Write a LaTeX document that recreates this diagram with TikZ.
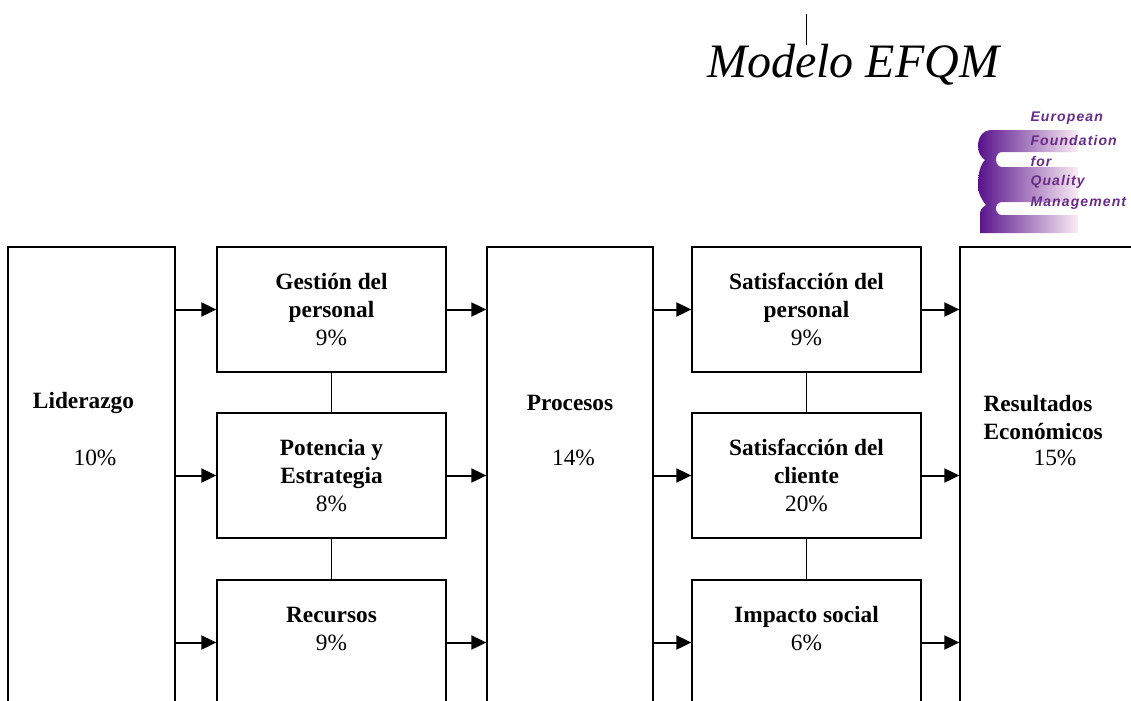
\documentclass[tikz,border=0pt]{standalone}
\usepackage{fontspec}
\setmainfont{Liberation Serif}
\newfontfamily\logofont[LetterSpace=8]{Liberation Sans}
\usetikzlibrary{arrows.meta}
\definecolor{efqmpurple}{RGB}{88,18,140}
\definecolor{efqmmid}{RGB}{160,80,170}
\definecolor{efqmpink}{RGB}{250,236,244}
\definecolor{efqmtext}{RGB}{104,44,136}
\tikzset{every picture/.style={line width=0.75pt}}

\begin{document}
\begin{tikzpicture}[x=0.75pt,y=0.75pt,yscale=-1,xscale=1,
	bigbox/.style={draw,line width=1pt,minimum height=343.5pt,inner sep=0pt},
	smallbox/.style={draw,line width=1pt,minimum width=171.75pt,minimum height=93.75pt,inner sep=0pt,align=center,font=\fontsize{17.5}{21}\selectfont},
	lbl/.style={inner sep=0pt,align=left,font=\fontsize{17.5}{21}\selectfont},
	arr/.style={line width=1.5pt,-{Triangle[length=11.25pt,width=10.5pt]}},
	link/.style={line width=1pt},
	logotxt/.style={inner sep=0pt,anchor=west,text=efqmtext,font=\logofont\bfseries\itshape\fontsize{10.5}{11}\selectfont}]
	\useasboundingbox (0,0) rectangle (1131,700);

	%Shape: Rectangle [id:lid] 
	\node[bigbox,minimum width=125.25pt] (lid) at (91.5,476) {};
	%Shape: Rectangle [id:proc] 
	\node[bigbox,minimum width=124.5pt] (proc) at (570,476) {};
	%Shape: Rectangle [id:res] 
	\node[bigbox,minimum width=142.5pt] (res) at (1055,476) {};

	%Shape: Rectangle [id:gp] 
	\node[smallbox] (gp) at (331.5,309.5) {\textbf{Gestión del}\\\textbf{personal}\\9\%};
	%Shape: Rectangle [id:pe] 
	\node[smallbox] (pe) at (331.5,475.5) {\textbf{Potencia y}\\\textbf{Estrategia}\\8\%};
	%Shape: Rectangle [id:rec] 
	\node[smallbox] (rec) at (331.5,642.5) {\textbf{Recursos}\\9\%\\\mbox{}};
	%Shape: Rectangle [id:sp] 
	\node[smallbox] (sp) at (806.5,309.5) {\textbf{Satisfacción del}\\\textbf{personal}\\9\%};
	%Shape: Rectangle [id:sc] 
	\node[smallbox] (sc) at (806.5,475.5) {\textbf{Satisfacción del}\\\textbf{cliente}\\20\%};
	%Shape: Rectangle [id:is] 
	\node[smallbox] (is) at (806.5,642.5) {\textbf{Impacto social}\\6\%\\\mbox{}};

	%Straight Lines [id:links] 
	\draw[link] (gp.south) -- (pe.north);
	\draw[link] (pe.south) -- (rec.north);
	\draw[link] (sp.south) -- (sc.north);
	\draw[link] (sc.south) -- (is.north);

	%Straight Lines [id:arrows] 
	\foreach \b in {gp,pe,rec}{
		\draw[arr] (lid.east |- \b.west) -- (\b.west);
		\draw[arr] (\b.east) -- (proc.west |- \b.east);
	}
	\foreach \b in {sp,sc,is}{
		\draw[arr] (proc.east |- \b.west) -- (\b.west);
		\draw[arr] (\b.east) -- (res.west |- \b.east);
	}

	% Text Node
	\node[lbl] (lidname) at (83.5,403) {\textbf{Liderazgo}};
	% Text Node
	\node[lbl] (lidpct) at (95,458) {10\%};
	% Text Node
	\node[lbl] (procname) at (570,403) {\textbf{Procesos}};
	% Text Node
	\node[lbl] (procpct) at (573.5,458) {14\%};
	% Text Node
	\node[lbl,anchor=west] (resname) at (983,417.5) {\textbf{Resultados}\\\textbf{Económicos}};
	% Text Node
	\node[lbl] (respct) at (1055,458) {15\%};

	% Text Node
	\node[inner sep=0pt,font=\itshape\fontsize{36}{40}\selectfont] (title) at (853,65) {Modelo EFQM};
	%Straight Lines [id:cursor] 
	\coordinate (curtop) at (806,14);
	\coordinate (curbot) at (806,45);
	\draw (curtop) -- (curbot);

	%Shape: Logo [id:logo] 
	\shade[left color=efqmpurple,middle color=efqmmid,right color=efqmpink] (1078,130) -- (992,130) .. controls (982,130) and (978,138) .. (978,146) .. controls (978,153) and (981,157) .. (985,160) .. controls (980,165) and (978,175) .. (978,184) .. controls (978,193) and (981,199) .. (986,205) .. controls (981,208) and (980,211) .. (980,215) -- (980,233) -- (1078,233) -- (1078,215) -- (1002,215) .. controls (994,215) and (994,202) .. (1002,202) -- (1078,202) -- (1078,167) -- (1002,167) .. controls (994,167) and (994,152) .. (1002,152) -- (1078,152) -- cycle;
	% Text Node
	\node[logotxt] (lg1) at (1030,118) {European};
	% Text Node
	\node[logotxt] (lg2) at (1030,140) {Foundation};
	% Text Node
	\node[logotxt] (lg3) at (1030,161) {for};
	% Text Node
	\node[logotxt] (lg4) at (1030,182) {Quality};
	% Text Node
	\node[logotxt] (lg5) at (1030,203) {Management};
\end{tikzpicture}
\end{document}
